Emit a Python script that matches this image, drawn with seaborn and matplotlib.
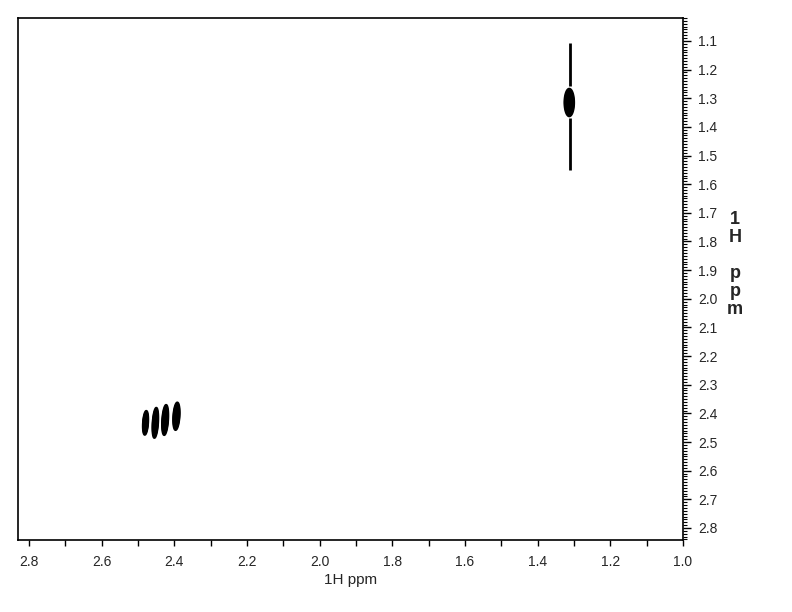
import numpy as np
import matplotlib
matplotlib.use("Agg")
import matplotlib.pyplot as plt
import seaborn as sns
from matplotlib.ticker import MultipleLocator, FormatStrFormatter

# peak list (ppm)
peak_f2 = [2.479, 2.452, 2.425, 2.394, 1.313]
peak_f1 = [2.433, 2.433, 2.423, 2.410, 1.315]
sigma_f2 = [0.0045, 0.0048, 0.0052, 0.0055, 0.0085]
sigma_f1 = [0.027, 0.034, 0.034, 0.031, 0.031]
shear = [0.05, 0.05, 0.05, 0.05, 0.0]

# t1 noise streak through the methyl peak
streak_f2 = [1.310, 1.310]
streak_lo = [1.107, 1.369]
streak_hi = [1.257, 1.550]

x_lim = (2.83, 1.0)
y_lim = (1.02, 2.842)

sns.set_theme(style="ticks")
plt.rcParams['font.family'] = ['Liberation Sans', 'DejaVu Sans']

fig = plt.figure(figsize=(7.92, 6.12), dpi=100)
ax = fig.add_axes([0.0227, 0.1176, 0.8397, 0.853])

xs = np.linspace(x_lim[1], x_lim[0], 1400)
ys = np.linspace(y_lim[0], y_lim[1], 1400)
X, Y = np.meshgrid(xs, ys)
Z = np.zeros_like(X)
for cx, cy, sx, sy, s in zip(peak_f2, peak_f1, sigma_f2, sigma_f1, shear):
    dy = Y - cy
    dx = (X - cx) - s * dy
    Z += np.exp(-0.5 * ((dx / sx) ** 2 + (dy / sy) ** 2))

ax.contour(X, Y, Z, levels=np.linspace(0.3, 0.95, 9), colors='black', linewidths=1.5)
ax.vlines(streak_f2, streak_lo, streak_hi, colors='black', linewidth=2)

ax.set_xlim(*x_lim)
ax.set_ylim(y_lim[1], y_lim[0])

ax.yaxis.tick_right()
ax.xaxis.set_major_locator(MultipleLocator(0.2))
ax.xaxis.set_minor_locator(MultipleLocator(0.1))
ax.xaxis.set_major_formatter(FormatStrFormatter('%.1f'))
ax.yaxis.set_major_locator(MultipleLocator(0.1))
ax.yaxis.set_minor_locator(MultipleLocator(0.01))
ax.yaxis.set_major_formatter(FormatStrFormatter('%.1f'))

ax.tick_params(axis='x', which='both', direction='out', length=4, width=1, color='black',
               labelsize=10, pad=7)
ax.tick_params(axis='y', which='major', direction='out', length=6, width=1, color='black',
               labelsize=10, pad=5)
ax.tick_params(axis='y', which='minor', direction='out', length=3, width=0.8, color='black')

for sp in ax.spines.values():
    sp.set_color('black')
    sp.set_linewidth(1.2)
    sp.set_visible(True)

ax.set_xlabel("1H ppm", fontsize=11, labelpad=3)
fig.text(0.928, 0.655, "1\nH\n\np\np\nm", fontsize=13, fontweight='bold',
         ha='center', va='top', linespacing=1.08)

fig.savefig("out.png", dpi=100)
